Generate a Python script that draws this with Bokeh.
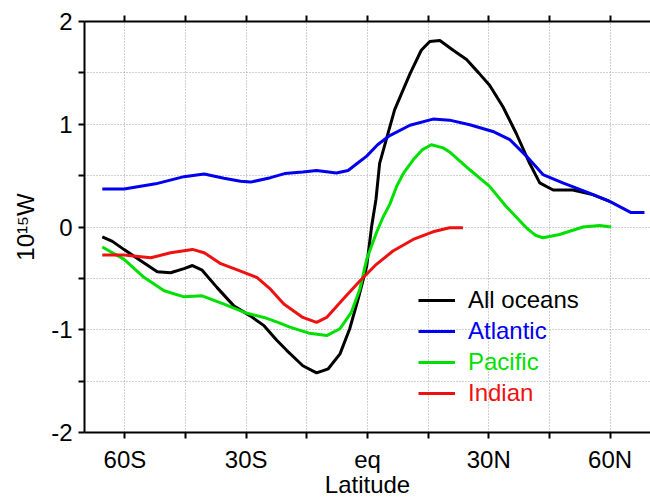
from bokeh.plotting import figure
from bokeh.models import (Range1d, LinearAxis, FixedTicker, Legend, LegendItem)
from bokeh.embed import file_html
from bokeh.resources import INLINE

# ---------------- data ----------------
all_lat = [-65.6, -63.1, -60.2, -56.0, -52.0, -48.7, -45.4, -43.3, -40.9, -37.2, -33.0, -29.0,
           -25.6, -22.5, -20.0, -16.0, -12.6, -9.7, -6.8, -4.4, -2.3, -0.2, 1.0, 2.1, 3.0,
           6.7, 10.5, 13.3, 15.4, 17.9, 21.2, 24.5, 27.5, 30.2, 33.5, 36.8, 40.1, 42.6,
           45.9, 50.8, 55.7, 59.9]
all_val = [-0.095, -0.14, -0.22, -0.33, -0.435, -0.445, -0.405, -0.375, -0.42, -0.59, -0.77, -0.865,
           -0.96, -1.10, -1.20, -1.35, -1.42, -1.38, -1.235, -0.99, -0.70, -0.38, 0.0, 0.27, 0.62,
           1.14, 1.49, 1.72, 1.805, 1.815, 1.72, 1.63, 1.50, 1.38, 1.17, 0.91, 0.62, 0.43,
           0.36, 0.36, 0.315, 0.25]

atl_lat = [-65.6, -60.2, -52.4, -45.4, -40.4, -35.5, -31.4, -28.9, -24.0, -20.5, -16.0, -12.6,
           -7.7, -4.8, -2.5, -0.2, 2.5, 5.5, 10.5, 16.2, 20.3, 25.3, 31.0, 35.2, 39.3, 43.4,
           48.3, 54.9, 59.9, 65.2, 68.5]
atl_val = [0.37, 0.37, 0.42, 0.49, 0.515, 0.475, 0.445, 0.437, 0.48, 0.52, 0.535, 0.55,
           0.525, 0.55, 0.62, 0.69, 0.80, 0.89, 0.99, 1.05, 1.04, 0.995, 0.93, 0.85, 0.69, 0.51,
           0.43, 0.33, 0.25, 0.14, 0.14]

pac_lat = [-65.6, -60.2, -55.3, -50.3, -45.4, -40.9, -35.5, -29.8, -25.6, -22.0, -19.2, -14.3,
           -10.1, -6.8, -4.0, -1.9, -0.2, 2.2, 3.9, 5.5, 7.2, 9.0, 11.3, 13.5, 15.8, 18.7, 20.3,
           25.3, 30.2, 34.3, 39.3, 41.5, 43.4, 47.5, 53.3, 57.4, 60.3]
pac_val = [-0.195, -0.315, -0.49, -0.62, -0.68, -0.67, -0.75, -0.84, -0.88, -0.93, -0.975, -1.035,
           -1.057, -0.99, -0.83, -0.605, -0.315, -0.056, 0.10, 0.22, 0.395, 0.53, 0.654, 0.75, 0.80, 0.77, 0.73,
           0.557, 0.395, 0.20, -0.008, -0.08, -0.105, -0.073, 0.0, 0.015, 0.0]

ind_lat = [-65.6, -60.2, -53.6, -48.7, -43.3, -40.4, -36.3, -32.2, -27.3, -24.0, -20.7, -16.0,
           -12.6, -10.1, -6.0, -1.9, 2.2, 6.3, 11.3, 16.2, 20.3, 23.6]
ind_val = [-0.273, -0.273, -0.30, -0.25, -0.218, -0.25, -0.357, -0.418, -0.492, -0.605, -0.75, -0.88,
           -0.928, -0.88, -0.70, -0.525, -0.363, -0.234, -0.121, -0.047, -0.008, -0.008]

series_names = ["All oceans", "Atlantic", "Pacific", "Indian"]
series_colors = ["#000000", "#0000ee", "#00e000", "#ee1111"]

x_major = [-60, -30, 0, 30, 60]
x_minor = [-75, -45, -15, 15, 45, 75]
x_labels = ["60S", "30S", "eq", "30N", "60N"]
y_major = [-2, -1, 0, 1, 2]
y_minor = [-1.5, -0.5, 0.5, 1.5]
y_labels = ["-2", "-1", "0", "1", "2"]

FONT = "Liberation Sans"
FS = "24px"

p = figure(width=650, height=500, output_backend="svg", toolbar_location=None,
           x_range=Range1d(-70, 70), y_range=Range1d(-2, 2),
           min_border_left=84, min_border_top=21, min_border_right=0, min_border_bottom=66)
p.outline_line_color = None
p.background_fill_color = "white"

bottom = p.below[0]
left = p.left[0]

bottom.ticker = FixedTicker(ticks=x_major, minor_ticks=x_minor)
bottom.major_label_overrides = {v: s for v, s in zip(x_major, x_labels)}
bottom.axis_label = "Latitude"
bottom.axis_label_standoff = -5
bottom.major_label_standoff = 7

left.ticker = FixedTicker(ticks=y_major, minor_ticks=y_minor)
left.major_label_overrides = {v: s for v, s in zip(y_major, y_labels)}
left.axis_label = "10¹⁵W"
left.axis_label_standoff = 9
left.major_label_standoff = 6

top = LinearAxis(ticker=FixedTicker(ticks=x_major, minor_ticks=x_minor),
                 major_label_standoff=0)
p.add_layout(top, "above")

for ax in (bottom, left, top):
    ax.axis_line_width = 2
    ax.major_tick_line_width = 2
    ax.minor_tick_line_width = 2
    ax.major_tick_in = 0
    ax.major_tick_out = 6
    ax.minor_tick_in = 0
    ax.minor_tick_out = 6
    ax.major_label_text_font = FONT
    ax.axis_label_text_font = FONT
    ax.axis_label_text_font_style = "normal"
    ax.axis_label_text_font_size = FS
    ax.major_label_text_color = "black"
    ax.axis_label_text_color = "black"
for ax in (bottom, left):
    ax.major_label_text_font_size = FS
top.major_label_text_font_size = "0px"
top.major_label_text_alpha = 0

p.xgrid.ticker = FixedTicker(ticks=sorted(x_major + x_minor))
p.ygrid.ticker = FixedTicker(ticks=sorted(y_major + y_minor))
for g in (p.xgrid, p.ygrid):
    g.grid_line_color = "#a0a0a0"
    g.grid_line_dash = "1 2"
    g.grid_line_width = 1

lats = [all_lat, atl_lat, pac_lat, ind_lat]
vals = [all_val, atl_val, pac_val, ind_val]
renderers = []
for la, va, c in zip(lats, vals, series_colors):
    r = p.line(la, va, line_color=c, line_width=3)
    renderers.append(r)

legend_locs = [(334, 118), (334, 87), (334, 56), (334, 25)]
for name, c, r, loc in zip(series_names, series_colors, renderers, legend_locs):
    lg = Legend(items=[LegendItem(label=name, renderers=[r])], location=loc,
                label_text_color=c, label_text_font=FONT, label_text_font_size=FS,
                glyph_width=37, glyph_height=20, label_height=20, label_standoff=13,
                padding=0, margin=0, spacing=0, border_line_color=None,
                background_fill_alpha=0)
    p.add_layout(lg)

open("out.html", "w").write(file_html(p, INLINE))
